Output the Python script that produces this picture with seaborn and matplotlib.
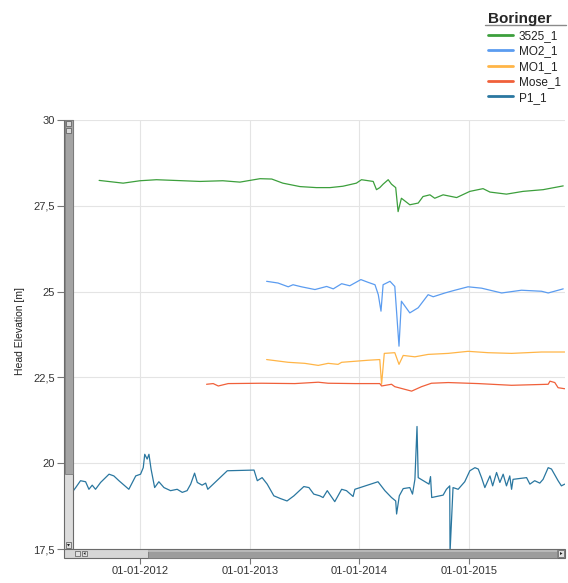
import matplotlib
matplotlib.use("Agg")
import matplotlib.pyplot as plt
import matplotlib.dates as mdates
from matplotlib.patches import Rectangle, Polygon
from matplotlib.lines import Line2D
import seaborn as sns
import pandas as pd

# ---------------- data ----------------
series_names = ["3525_1", "MO2_1", "MO1_1", "Mose_1", "P1_1"]
series_colors = ["#3c9f3c", "#5b9cf0", "#ffb547", "#f0603a", "#2a77a0"]

y_ticks = [17.5, 20, 22.5, 25, 27.5, 30]
y_tick_labels = ["17,5", "20", "22,5", "25", "27,5", "30"]
x_ticks = ["2012-01-01", "2013-01-01", "2014-01-01", "2015-01-01"]
x_tick_labels = ["01-01-2012", "01-01-2013", "01-01-2014", "01-01-2015"]
x_range = ["2011-04-23", "2015-11-17"]
y_range = [17.238, 30]

g_dates = ["2011-08-18", "2011-11-06", "2012-01-01", "2012-02-25", "2012-05-23", "2012-07-19",
           "2012-10-03", "2012-11-29", "2013-02-04", "2013-03-15", "2013-04-21", "2013-06-17",
           "2013-08-11", "2013-09-25", "2013-11-07", "2013-12-22", "2014-01-08", "2014-02-16",
           "2014-02-27", "2014-03-10", "2014-03-21", "2014-04-07", "2014-04-18", "2014-05-02",
           "2014-05-10", "2014-05-21", "2014-06-18", "2014-07-16", "2014-08-01", "2014-08-24",
           "2014-09-09", "2014-10-07", "2014-11-21", "2015-01-04", "2015-02-17", "2015-03-12",
           "2015-05-06", "2015-06-30", "2015-09-05", "2015-11-11"]
g_vals = [28.24, 28.16, 28.23, 28.26, 28.23, 28.21, 28.23, 28.19, 28.29, 28.28, 28.16, 28.06,
          28.03, 28.03, 28.07, 28.16, 28.26, 28.21, 27.97, 28.03, 28.13, 28.26, 28.13, 28.03,
          27.33, 27.72, 27.53, 27.58, 27.77, 27.82, 27.72, 27.82, 27.74, 27.92, 28.00, 27.90,
          27.84, 27.92, 27.97, 28.08]

b_dates = ["2013-02-26", "2013-04-05", "2013-05-09", "2013-05-25", "2013-06-22", "2013-08-06",
           "2013-09-14", "2013-10-06", "2013-11-03", "2013-11-30", "2014-01-06", "2014-01-30",
           "2014-02-22", "2014-03-05", "2014-03-14", "2014-03-21", "2014-04-13", "2014-04-29",
           "2014-05-13", "2014-05-21", "2014-06-18", "2014-07-16", "2014-08-18", "2014-09-04",
           "2014-10-13", "2014-11-15", "2014-12-29", "2015-02-12", "2015-04-20", "2015-06-25",
           "2015-08-31", "2015-09-22", "2015-11-11"]
b_vals = [25.30, 25.25, 25.14, 25.20, 25.14, 25.06, 25.15, 25.08, 25.23, 25.17, 25.35, 25.27,
          25.20, 24.91, 24.43, 25.20, 25.30, 25.15, 23.41, 24.72, 24.38, 24.53, 24.91, 24.85,
          24.96, 25.04, 25.14, 25.10, 24.96, 25.04, 25.01, 24.96, 25.08]

o_dates = ["2013-02-26", "2013-05-09", "2013-07-03", "2013-08-17", "2013-09-19", "2013-10-22",
           "2013-11-03", "2013-12-17", "2014-01-30", "2014-03-10", "2014-03-16", "2014-03-25",
           "2014-04-29", "2014-05-13", "2014-05-27", "2014-07-05", "2014-08-18", "2014-10-24",
           "2014-12-29", "2015-03-06", "2015-05-23", "2015-08-31", "2015-11-16"]
o_vals = [23.02, 22.94, 22.91, 22.85, 22.91, 22.88, 22.94, 22.97, 23.00, 23.02, 22.30, 23.20,
          23.22, 22.88, 23.14, 23.10, 23.17, 23.20, 23.26, 23.22, 23.20, 23.24, 23.24]

r_dates = ["2012-08-10", "2012-09-01", "2012-09-18", "2012-10-21", "2013-02-09", "2013-05-31",
           "2013-08-17", "2013-09-19", "2013-12-17", "2014-03-10", "2014-03-16", "2014-04-18",
           "2014-04-29", "2014-06-24", "2014-07-27", "2014-08-29", "2014-10-24", "2015-02-01",
           "2015-05-23", "2015-09-22", "2015-09-28", "2015-10-14", "2015-10-25", "2015-11-16"]
r_vals = [22.30, 22.32, 22.25, 22.32, 22.33, 22.32, 22.36, 22.33, 22.32, 22.32, 22.25, 22.30,
          22.23, 22.10, 22.23, 22.33, 22.35, 22.32, 22.27, 22.30, 22.39, 22.35, 22.20, 22.17]

p_dates = ["2011-05-20", "2011-06-01", "2011-06-17", "2011-07-04", "2011-07-15", "2011-07-26",
           "2011-08-06", "2011-08-23", "2011-09-20", "2011-10-06", "2011-10-23", "2011-11-25",
           "2011-12-18", "2012-01-03", "2012-01-12", "2012-01-17", "2012-01-25", "2012-01-31",
           "2012-02-07", "2012-02-19", "2012-03-04", "2012-03-21", "2012-04-12", "2012-05-04",
           "2012-05-21", "2012-06-06", "2012-06-18", "2012-07-01", "2012-07-10", "2012-07-26",
           "2012-08-07", "2012-08-14", "2012-10-18", "2013-01-15", "2013-01-26", "2013-02-11",
           "2013-02-28", "2013-03-22", "2013-04-13", "2013-05-05", "2013-05-28", "2013-06-30",
           "2013-07-17", "2013-08-02", "2013-08-22", "2013-09-02", "2013-09-16", "2013-10-11",
           "2013-11-03", "2013-11-19", "2013-12-11", "2013-12-17", "2014-03-04", "2014-03-27",
           "2014-04-18", "2014-05-02", "2014-05-05", "2014-05-14", "2014-05-27", "2014-06-18",
           "2014-06-27", "2014-07-05", "2014-07-12", "2014-07-16", "2014-08-21", "2014-08-26",
           "2014-08-30", "2014-09-15", "2014-10-07", "2014-10-18", "2014-10-29", "2014-10-30",
           "2014-11-09", "2014-11-26", "2014-12-18", "2015-01-04", "2015-01-21", "2015-02-01",
           "2015-02-12", "2015-02-23", "2015-03-12", "2015-03-21", "2015-04-03", "2015-04-14",
           "2015-04-25", "2015-05-06", "2015-05-17", "2015-05-23", "2015-05-28", "2015-07-12",
           "2015-07-23", "2015-08-08", "2015-08-25", "2015-09-05", "2015-09-22", "2015-10-03",
           "2015-10-25", "2015-11-05", "2015-11-16"]
p_vals = [19.15, 19.29, 19.49, 19.46, 19.24, 19.36, 19.24, 19.44, 19.68, 19.63, 19.49, 19.24,
          19.63, 19.68, 19.87, 20.26, 20.12, 20.26, 19.83, 19.29, 19.46, 19.29, 19.20, 19.24,
          19.15, 19.20, 19.39, 19.71, 19.44, 19.36, 19.42, 19.24, 19.78, 19.80, 19.49, 19.58,
          19.39, 19.05, 18.97, 18.90, 19.05, 19.32, 19.29, 19.10, 19.05, 19.00, 19.20, 18.88,
          19.24, 19.20, 19.03, 19.24, 19.46, 19.20, 19.00, 18.90, 18.52, 19.05, 19.26, 19.29,
          19.10, 19.53, 21.07, 19.58, 19.39, 19.61, 19.00, 19.03, 19.07, 19.24, 19.34, 17.40,
          19.29, 19.24, 19.46, 19.78, 19.87, 19.83, 19.58, 19.29, 19.63, 19.34, 19.73, 19.44,
          19.68, 19.34, 19.63, 19.24, 19.53, 19.58, 19.39, 19.49, 19.42, 19.53, 19.87, 19.83,
          19.49, 19.34, 19.39]

all_dates = [g_dates, b_dates, o_dates, r_dates, p_dates]
all_vals = [g_vals, b_vals, o_vals, r_vals, p_vals]

frames = []
for name, d, v in zip(series_names, all_dates, all_vals):
    frames.append(pd.DataFrame({"date": pd.to_datetime(d), "value": v, "series": name}))
df = pd.concat(frames, ignore_index=True)

# ---------------- style ----------------
sns.set_style("white")
plt.rcParams["font.family"] = ["Liberation Sans", "DejaVu Sans"]

W, H = 568, 583
fig = plt.figure(figsize=(W / 100, H / 100), dpi=100)
ax = fig.add_axes([64 / W, 1 - 558 / H, (565 - 64) / W, (558 - 120) / H])

sns.lineplot(data=df, x="date", y="value", hue="series", hue_order=series_names,
             palette=series_colors, estimator=None, sort=True, linewidth=0.9, ax=ax,
             legend=True)

ax.set_xlim(pd.to_datetime(x_range[0]), pd.to_datetime(x_range[1]))
ax.set_ylim(*y_range)
ax.set_yticks(y_ticks)
ax.set_yticklabels(y_tick_labels)
ax.set_xticks(pd.to_datetime(x_ticks))
ax.set_xticklabels(x_tick_labels)
ax.grid(True, color="#e4e4e4", linewidth=0.8)
ax.set_axisbelow(True)
for s in ax.spines.values():
    s.set_visible(False)
ax.tick_params(axis="y", direction="out", length=5, width=0.8, color="#777777",
               labelsize=8, labelcolor="#333333", pad=1.5, left=True)
ax.tick_params(axis="x", direction="out", length=4, width=0.8, color="#777777",
               labelsize=8, labelcolor="#333333", pad=1.5, bottom=True)
ax.set_xlabel("")
ax.set_ylabel("Head Elevation [m]", fontsize=7.5, color="#222222")
ax.yaxis.set_label_coords((25 - 64) / (565 - 64), (558 - 331) / (558 - 120))

# legend
handles, labels = ax.get_legend_handles_labels()
ax.get_legend().remove()
for h in handles:
    h.set_linewidth(2.0)
leg = fig.legend(handles, labels, loc="upper left", bbox_to_anchor=(488 / W, 1 - 12.5 / H),
                 frameon=False, title="Boringer", alignment="left",
                 title_fontproperties={"weight": "bold", "size": 11, "family": "Liberation Sans"},
                 fontsize=8.5, handlelength=2.1, handletextpad=0.5, labelspacing=0.29,
                 borderpad=0, borderaxespad=0)
for t in leg.get_texts():
    t.set_color("#222222")
fig.add_artist(Line2D([485 / W, 566 / W], [1 - 25 / H, 1 - 25 / H], transform=fig.transFigure,
                      color="#8a8a8a", linewidth=1.0))


# ---------------- scrollbars (decoration) ----------------
def prect(x0, y0, x1, y1, **kw):
    fig.add_artist(Rectangle((x0 / W, 1 - y1 / H), (x1 - x0) / W, (y1 - y0) / H,
                             transform=fig.transFigure, **kw))


def ptri(pts, **kw):
    fig.add_artist(Polygon([(x / W, 1 - y / H) for x, y in pts], closed=True,
                           transform=fig.transFigure, **kw))


# left vertical scrollbar
prect(64, 120, 73, 549, facecolor="#dcdcdc", edgecolor="#6a6a6a", linewidth=0.8)
prect(64.5, 120, 72.5, 474, facecolor="#a4a4a4", edgecolor="#7a7a7a", linewidth=0.6)
prect(66, 121, 71, 126, facecolor="#d8d8d8", edgecolor="#555555", linewidth=0.5)
prect(66, 128, 71, 133, facecolor="#d8d8d8", edgecolor="#555555", linewidth=0.5)
prect(66, 542, 71, 548, facecolor="#e0e0e0", edgecolor="#555555", linewidth=0.5)
ptri([(67, 544), (70, 544), (68.5, 546.5)], facecolor="#222222", edgecolor="none")
# bottom horizontal scrollbar
prect(64, 549, 565, 558, facecolor="#d6d6d6", edgecolor="#6a6a6a", linewidth=0.8)
prect(148, 549.5, 557, 557.5, facecolor="#9c9c9c", edgecolor="#7a7a7a", linewidth=0.6)
prect(148, 549.5, 557, 552, facecolor="#b8b8b8", edgecolor="none")
prect(75, 551, 80, 556, facecolor="#e0e0e0", edgecolor="#555555", linewidth=0.5)
prect(82, 551, 87, 556, facecolor="#e0e0e0", edgecolor="#555555", linewidth=0.5)
ptri([(85.5, 552), (85.5, 555), (83.5, 553.5)], facecolor="#222222", edgecolor="none")
prect(558, 550, 564, 557, facecolor="#e0e0e0", edgecolor="#555555", linewidth=0.5)
ptri([(560, 552), (560, 555), (562.5, 553.5)], facecolor="#222222", edgecolor="none")

fig.savefig("out.png", dpi=100)
